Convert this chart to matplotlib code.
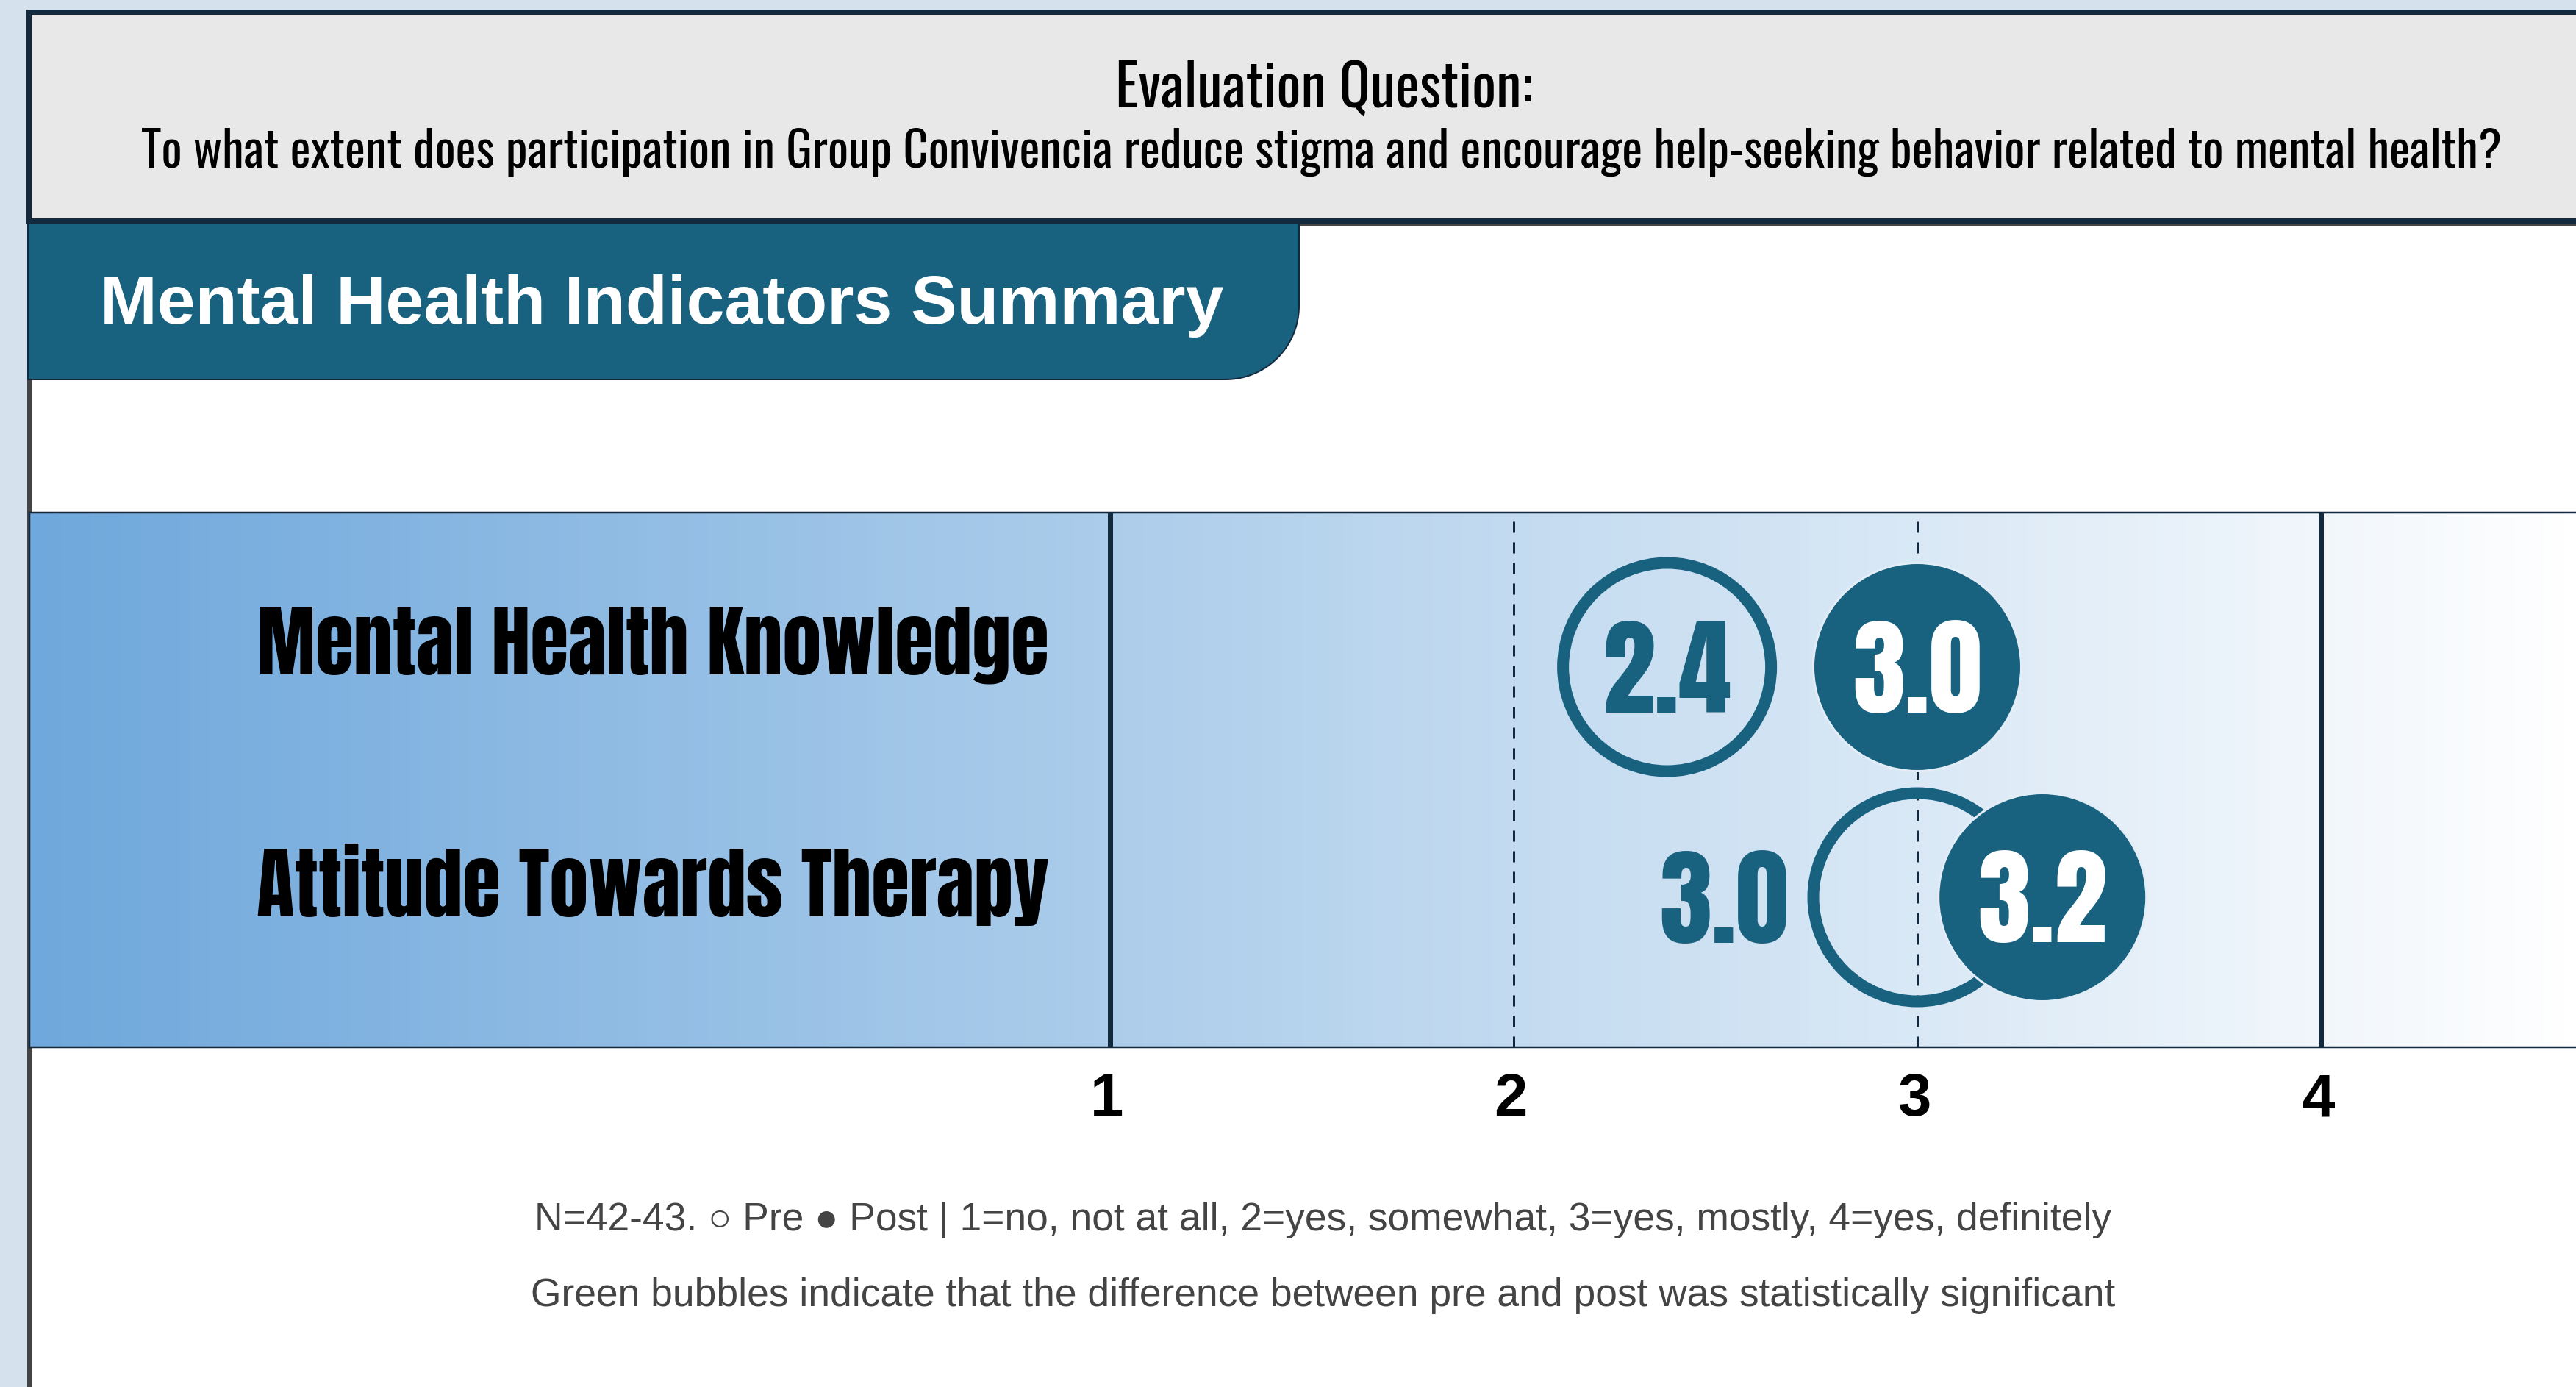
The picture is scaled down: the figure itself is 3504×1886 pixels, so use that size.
import numpy as np
import matplotlib
matplotlib.use("Agg")
import matplotlib.pyplot as plt
from matplotlib import font_manager as fm
from matplotlib.font_manager import FontProperties
from matplotlib.textpath import TextPath
from matplotlib.patches import Rectangle, PathPatch
from matplotlib.path import Path
from matplotlib.colors import LinearSegmentedColormap

# ---------------- data ----------------
indicators = ["Mental Health Knowledge", "Attitude Towards Therapy"]
pre_scores = [2.38, 3.0]
post_scores = [3.0, 3.2]
significant = [False, False]
scale_ticks = [1, 2, 3, 4]
tick_labels = ["1", "2", "3", "4"]
solid_ticks = [1, 4]
eval_heading = "Evaluation Question:"
eval_question = ("To what extent does participation in Group Convivencia reduce stigma "
                 "and encourage help-seeking behavior related to mental health?")
section_title = "Mental Health Indicators Summary"
footnotes = ["N=42-43. \u25cb Pre \u25cf Post | 1=no, not at all, 2=yes, somewhat, 3=yes, mostly, 4=yes, definitely",
             "Green bubbles indicate that the difference between pre and post was statistically significant"]

# ---------------- style ----------------
W, H, DPI = 3504, 1886, 100
PX = 72.0 / DPI  # points per pixel
TEAL = "#19627f"
GREEN = "#2e8b57"
NAVY = "#13293d"
PAGE = "#d5e1ed"

available = {f.name for f in fm.fontManager.ttflist}


def pick(*names):
    for n in names:
        if n in available:
            return n
    return "DejaVu Sans"


COND = pick("Oswald", "Fjalla One", "Roboto Condensed")
HEAVY = pick("Anton", "Oswald", "Roboto Condensed")
SANS = pick("Liberation Sans", "Arimo", "Roboto")

fp_cond = FontProperties(family=COND)
fp_heavy = FontProperties(family=HEAVY, weight="bold")
fp_sans = FontProperties(family=SANS)
fp_sans_b = FontProperties(family=SANS, weight="bold")


def ext(text, fp):
    return TextPath((0, 0), text, size=100, prop=fp).get_extents()


def fs_width(text, fp, px):
    return 100.0 * px * PX / ext(text, fp).width


def fs_height(text, fp, px):
    return 100.0 * px * PX / ext(text, fp).height


fig = plt.figure(figsize=(W / DPI, H / DPI), dpi=DPI, facecolor=PAGE)

# page decoration layer in pixel coordinates
bg = fig.add_axes([0, 0, 1, 1], zorder=0)
bg.set_xlim(0, W)
bg.set_ylim(H, 0)
bg.axis("off")

# white content panel
bg.add_patch(Rectangle((39.5, 303), W, H, facecolor="white", edgecolor="#444444", lw=7 * PX, zorder=1))
# evaluation question box
bg.add_patch(Rectangle((38.5, 16), W, 283.5, facecolor="#e8e8e8", edgecolor=NAVY, lw=7 * PX, zorder=2))
# section tab with rounded bottom-right corner
r = 100
t = np.linspace(0, np.pi / 2, 40)
verts = [(38, 303), (1767, 303), (1767, 516 - r)]
verts += [(1767 - r + r * np.cos(a), 516 - r + r * np.sin(a)) for a in t]
verts += [(38, 516), (38, 303)]
codes = [Path.MOVETO] + [Path.LINETO] * (len(verts) - 2) + [Path.CLOSEPOLY]
bg.add_patch(PathPatch(Path(verts, codes), facecolor=TEAL, edgecolor=NAVY, lw=2 * PX, zorder=3))

# heading texts
fs = fs_width(eval_heading, fp_cond, 561)
bg.text(1801, 146, eval_heading, family=COND, fontsize=fs, ha="center", va="baseline", color="#000000", zorder=4)
fs = fs_width(eval_question, fp_cond, 3209)
bg.text(1798, 228, eval_question, family=COND, fontsize=fs, ha="center", va="baseline", color="#000000", zorder=4)
fs = fs_width(section_title, fp_sans_b, 1522)
bg.text(136, 440, section_title, family=SANS, weight="bold", fontsize=fs, ha="left", va="baseline",
        color="white", zorder=4)

# footnotes
fs_a = fs_width(footnotes[0], fp_sans, 2140)
fs_b = fs_width(footnotes[1], fp_sans, 2145)
fs_f = (fs_a + fs_b) / 2
for txt, yb in zip(footnotes, [1673, 1776]):
    bg.text(1800, yb, txt, family=[SANS, "DejaVu Sans"], fontsize=fs_f, ha="center", va="baseline",
            color="#444444", zorder=4)

# ---------------- chart band ----------------
band_top, band_bot = 697, 1424
ax = fig.add_axes([40 / W, 1 - band_bot / H, (W - 40) / W, (band_bot - band_top) / H], zorder=2)
ppu = 549.0  # pixels per scale unit
x_one = 1510
x0 = 1 - (x_one - 40) / ppu
x1 = 1 + (W - x_one) / ppu
row_px = [907, 1220]
rpp = row_px[1] - row_px[0]
y0 = -(row_px[0] - band_top) / rpp
y1 = 1 + (band_bot - row_px[1]) / rpp
ax.set_xlim(x0, x1)
ax.set_ylim(y1, y0)
ax.set_facecolor("none")

grad = LinearSegmentedColormap.from_list("band", ["#6fa8dc", "#ffffff"])
ax.imshow(np.linspace(0, 1, 512)[None, :], cmap=grad, extent=(x0, x1, y1, y0), aspect="auto",
          interpolation="bilinear", zorder=0)

for tk in scale_ticks:
    if tk in solid_ticks:
        ax.axvline(tk, color=NAVY, lw=7 * PX, zorder=1)
    else:
        lw = 3 * PX
        ax.axvline(tk, color=NAVY, lw=lw, ls=(0, (15 * PX / lw, 13 * PX / lw)), zorder=1)

for side in ["top", "bottom", "left"]:
    ax.spines[side].set_color(NAVY)
    ax.spines[side].set_linewidth(2.5 * PX)
ax.spines["right"].set_visible(False)
ax.set_xticks([])
ax.set_yticks([])

# scale tick labels below the band
fs_t = fs_height("2", fp_sans_b, 57)
for tk, lab in zip(scale_ticks, tick_labels):
    ax.annotate(lab, xy=(tk, y1), xycoords="data", xytext=(-4 * PX, -(1517 - band_bot) * PX),
                textcoords="offset points", ha="center", va="baseline", family=SANS, weight="bold",
                fontsize=fs_t, color="black", annotation_clip=False)

# bubbles
rows = np.arange(len(indicators))
colors = [GREEN if s else TEAL for s in significant]
diam_px = 283
S = (diam_px * PX) ** 2
overlap_limit = diam_px / ppu
overlap_shift = 0.11
post_pos = [q + (overlap_shift if abs(q - p) < overlap_limit else 0.0) for p, q in zip(pre_scores, post_scores)]

ax.scatter(pre_scores, rows, s=S, facecolors="none", edgecolors=colors, linewidths=16 * PX, zorder=3)
ax.scatter(post_pos, rows, s=S, facecolors=colors, edgecolors="#e3edf7", linewidths=3 * PX, zorder=4)

fs_n = 0.5 * (fs_width("3.0", fp_heavy, 177) + fs_height("3.0", fp_heavy, 121))
for i, (p, q, qp, col) in enumerate(zip(pre_scores, post_scores, post_pos, colors)):
    pre_txt = f"{p:.1f}"
    post_txt = f"{q:.1f}"
    e = ext(pre_txt, fp_heavy)
    mid = (e.y0 + e.y1) / 2 * fs_n / 100
    if abs(q - p) < overlap_limit:
        ax.annotate(pre_txt, xy=(p, i), xytext=(-(149.5 + 26) * PX, -mid), textcoords="offset points",
                    ha="right", va="baseline", family=HEAVY, fontsize=fs_n, color=col, zorder=5)
    else:
        ax.annotate(pre_txt, xy=(p, i), xytext=(0, -mid), textcoords="offset points",
                    ha="center", va="baseline", family=HEAVY, fontsize=fs_n, color=col, zorder=5)
    e = ext(post_txt, fp_heavy)
    mid = (e.y0 + e.y1) / 2 * fs_n / 100
    ax.annotate(post_txt, xy=(qp, i), xytext=(0, -mid), textcoords="offset points",
                ha="center", va="baseline", family=HEAVY, fontsize=fs_n, color="white", zorder=6)

# row labels
label_lift_px = [36, 20]
fs_l = 0.5 * (fs_width(indicators[0], fp_heavy, 1060) + fs_width(indicators[1], fp_heavy, 1086))
cap_mid = ext("H", fp_heavy).y1 / 2 * fs_l / 100
for i, lab in enumerate(indicators):
    ax.annotate(lab, xy=(scale_ticks[0], i), xytext=(-(x_one - 1427) * PX, label_lift_px[i] * PX - cap_mid),
                textcoords="offset points", ha="right", va="baseline", family=HEAVY, fontsize=fs_l,
                color="black", zorder=5)

fig.savefig("out.png", dpi=DPI, facecolor=PAGE)
